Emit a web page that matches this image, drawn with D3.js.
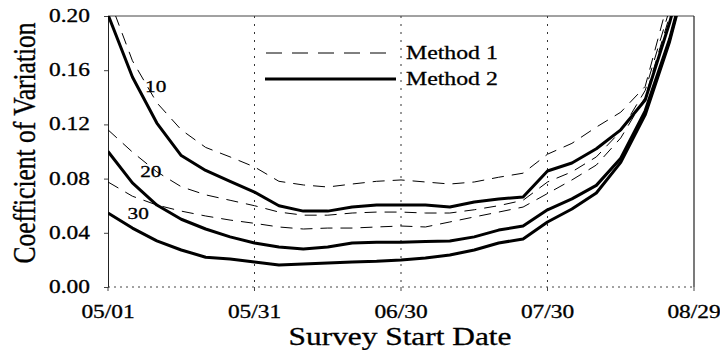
<!DOCTYPE html>
<html>
<head>
<meta charset="utf-8">
<script src="https://cdn.jsdelivr.net/npm/d3@7"></script>
<style>
  html, body { margin: 0; padding: 0; background: #fff; }
  svg { display: block; }
  text { font-family: "Liberation Serif", "Times New Roman", serif; fill: #000; stroke: #000; stroke-width: 0.3px; }
</style>
</head>
<body>
<svg id="chart" width="720" height="350"></svg>
<script>
// Survey start offsets (days after 05/01), one point every five days
const days = [0, 5, 10, 15, 20, 25, 30, 35, 40, 45, 50, 55, 60, 65, 70, 75, 80, 85, 90, 95, 100, 105, 110, 115, 120];

// Coefficient of variation, Method 1 (dashed) by sample size
const method1_n10 = [0.215, 0.167, 0.136, 0.116, 0.103, 0.096, 0.0886, 0.078, 0.0753, 0.0738, 0.076, 0.078, 0.079, 0.0775, 0.076, 0.0775, 0.081, 0.084, 0.098, 0.106, 0.118, 0.129, 0.148, 0.215, 0.30];
const method1_n20 = [0.116, 0.0996, 0.085, 0.074, 0.068, 0.064, 0.060, 0.0553, 0.053, 0.053, 0.0546, 0.0553, 0.0553, 0.0546, 0.0546, 0.057, 0.060, 0.064, 0.0775, 0.085, 0.096, 0.115, 0.145, 0.205, 0.28];
const method1_n30 = [0.0775, 0.067, 0.0605, 0.056, 0.0524, 0.0494, 0.047, 0.0443, 0.0428, 0.0435, 0.0435, 0.0443, 0.045, 0.0443, 0.048, 0.0517, 0.0553, 0.059, 0.069, 0.079, 0.090, 0.110, 0.140, 0.200, 0.28];

// Coefficient of variation, Method 2 (solid) by sample size
const method2_n10 = [0.201, 0.155, 0.121, 0.097, 0.086, 0.078, 0.070, 0.060, 0.056, 0.056, 0.059, 0.0605, 0.0605, 0.0605, 0.059, 0.0627, 0.065, 0.0664, 0.0856, 0.0915, 0.102, 0.116, 0.138, 0.195, 0.26];
const method2_n20 = [0.100, 0.0768, 0.0605, 0.050, 0.0428, 0.037, 0.0325, 0.0295, 0.028, 0.0295, 0.0325, 0.033, 0.033, 0.0336, 0.034, 0.037, 0.042, 0.045, 0.057, 0.065, 0.075, 0.095, 0.130, 0.183, 0.25];
const method2_n30 = [0.0546, 0.0435, 0.034, 0.0273, 0.022, 0.0207, 0.0185, 0.0162, 0.017, 0.0177, 0.0185, 0.019, 0.0199, 0.0214, 0.0236, 0.0273, 0.0325, 0.0354, 0.048, 0.0576, 0.0694, 0.092, 0.127, 0.181, 0.25];

// Axis ticks
const xTickDays = [0, 30, 60, 90, 120];
const xTickLabels = ["05/01", "05/31", "06/30", "07/30", "08/29"];
const yTicks = [0.00, 0.04, 0.08, 0.12, 0.16, 0.20];

// Sample-size annotations: [label, day, value]
const sizeLabels = [["10", 7.6, 0.144], ["20", 6.6, 0.0815], ["30", 4.0, 0.0500]];

const legendItems = ["Method 1", "Method 2"];

const svg = d3.select("#chart");
const plotLeft = 108, plotRight = 694, plotTop = 16, plotBottom = 287;

const x = d3.scaleLinear().domain([0, 120]).range([plotLeft, plotRight]);
const y = d3.scaleLinear().domain([0, 0.2]).range([plotBottom, plotTop]);

// horizontally widened serif text
function wideText(g, str, px, py, size, anchor, sx) {
  return g.append("text")
    .attr("transform", `translate(${px},${py}) scale(${sx},1)`)
    .attr("text-anchor", anchor)
    .attr("font-size", size)
    .text(str);
}

svg.append("defs").append("clipPath").attr("id", "plot-clip")
  .append("rect").attr("x", plotLeft).attr("y", plotTop)
  .attr("width", plotRight - plotLeft).attr("height", plotBottom - plotTop);

// vertical dotted gridlines
svg.append("g").selectAll("line")
  .data(xTickDays.slice(1, -1))
  .join("line")
  .attr("x1", d => x(d)).attr("x2", d => x(d))
  .attr("y1", plotTop).attr("y2", plotBottom)
  .attr("stroke", "#333").attr("stroke-width", 1)
  .attr("stroke-dasharray", "2,6");

// frame: top and right solid, bottom dotted
svg.append("line").attr("x1", plotLeft).attr("x2", plotRight).attr("y1", plotTop).attr("y2", plotTop)
  .attr("stroke", "#444").attr("stroke-width", 1);
svg.append("line").attr("x1", plotRight).attr("x2", plotRight).attr("y1", plotTop).attr("y2", plotBottom)
  .attr("stroke", "#222").attr("stroke-width", 1.2);
svg.append("line").attr("x1", plotLeft).attr("x2", plotRight).attr("y1", plotBottom).attr("y2", plotBottom)
  .attr("stroke", "#444").attr("stroke-width", 1).attr("stroke-dasharray", "2,4");

// y axis
const yAxis = svg.append("g").attr("transform", `translate(${plotLeft},0)`)
  .call(d3.axisLeft(y).tickValues(yTicks).tickSize(4).tickFormat(""));
yAxis.select(".domain").attr("stroke", "#222");
yAxis.selectAll(".tick line").attr("stroke", "#444");
yTicks.forEach(v => wideText(svg, d3.format(".2f")(v), 90, y(v) + 6, 18, "end", 1.3));

// x axis ticks on the dotted baseline
svg.append("g").selectAll("line")
  .data(xTickDays)
  .join("line")
  .attr("x1", d => x(d)).attr("x2", d => x(d))
  .attr("y1", plotBottom).attr("y2", plotBottom + 4)
  .attr("stroke", "#444");
xTickDays.forEach((d, i) => wideText(svg, xTickLabels[i], x(d), 318, 18, "middle", 1.3));

// axis titles
wideText(svg, "Survey Start Date", 400, 345, 24.5, "middle", 1.28);
svg.append("text")
  .attr("transform", "translate(35,143) scale(1.25,1) rotate(-90)")
  .attr("text-anchor", "middle")
  .attr("font-size", 25.5)
  .text("Coefficient of Variation");

// curves
const plot = svg.append("g").attr("clip-path", "url(#plot-clip)");
const line = d3.line().x((d, i) => x(days[i])).y(d => y(d));

const dashedSeries = [method1_n10, method1_n20, method1_n30];
const solidSeries = [method2_n10, method2_n20, method2_n30];

plot.selectAll("path.m1").data(dashedSeries).join("path")
  .attr("class", "m1")
  .attr("d", line)
  .attr("fill", "none").attr("stroke", "#000").attr("stroke-width", 1)
  .attr("stroke-dasharray", "12,8");

plot.selectAll("path.m2").data(solidSeries).join("path")
  .attr("class", "m2")
  .attr("d", line)
  .attr("fill", "none").attr("stroke", "#000").attr("stroke-width", 3)
  .attr("stroke-linejoin", "round");

// sample-size annotations
sizeLabels.forEach(([t, d, v]) => wideText(svg, t, x(d), y(v), 17, "start", 1.25));

// legend
const lg = svg.append("g");
lg.append("line").attr("x1", 266).attr("x2", 394).attr("y1", 53).attr("y2", 53)
  .attr("stroke", "#000").attr("stroke-width", 1).attr("stroke-dasharray", "16,10");
lg.append("line").attr("x1", 265).attr("x2", 396).attr("y1", 79).attr("y2", 79)
  .attr("stroke", "#000").attr("stroke-width", 3);
wideText(lg, legendItems[0], 406, 59, 19.5, "start", 1.22);
wideText(lg, legendItems[1], 406, 85, 19.5, "start", 1.22);
</script>
</body>
</html>
